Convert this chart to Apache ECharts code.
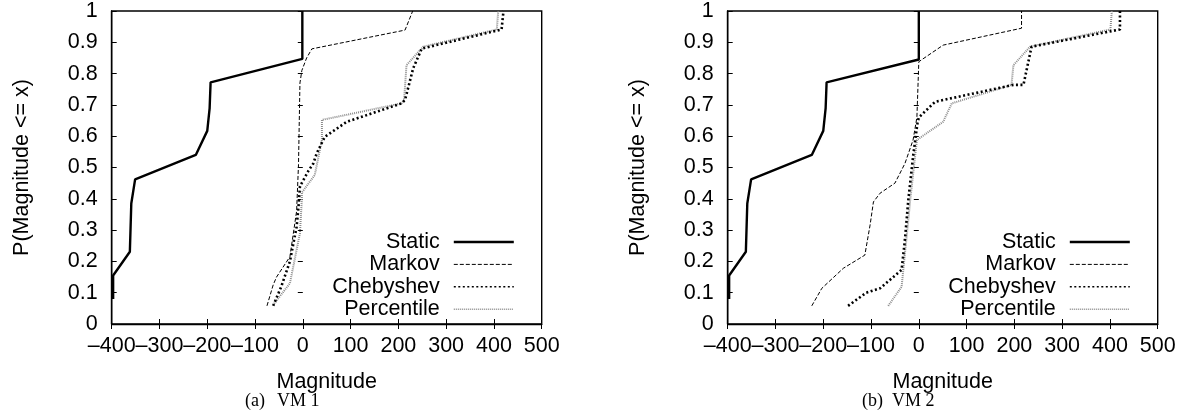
<!DOCTYPE html>
<html>
<head>
<meta charset="utf-8">
<script src="https://cdn.jsdelivr.net/npm/echarts@6/dist/echarts.min.js"></script>
<style>
  html, body { margin: 0; padding: 0; background: #fff; }
  #chart { width: 1186px; height: 418px; }
</style>
</head>
<body>
<div id="chart"></div>
<script>
// series names, in legend order
const seriesNames = ['Static', 'Markov', 'Chebyshev', 'Percentile']
const captions = ['(a)', '(b)']
const captionTitles = ['VM 1', 'VM 2']

// axis ranges / ticks
const xMin = -400
const xMax = 500
const xStep = 100
const yMin = 0
const yMax = 1
const yStep = 0.1

// VM 1 curves: [magnitude, P(Magnitude <= x)]
const staticVm1 = [[-397, 0.08], [-397, 0.155], [-362, 0.231], [-359, 0.385], [-351, 0.462], [-224, 0.54], [-200, 0.617], [-195, 0.69], [-193, 0.772], [-1, 0.847], [-1, 1]]
const markovVm1 = [[-75, 0.058], [-62, 0.125], [-55, 0.15], [-27, 0.215], [-13, 0.36], [-9, 0.51], [-6, 0.77], [-2, 0.81], [8, 0.85], [19, 0.879], [214, 0.939], [230, 1]]
const chebyshevVm1 = [[-62, 0.058], [-45, 0.12], [-27, 0.2], [-13, 0.31], [-9, 0.375], [-6, 0.44], [12, 0.49], [22, 0.513], [29, 0.545], [46, 0.598], [92, 0.646], [207, 0.705], [214, 0.716], [231, 0.817], [249, 0.88], [416, 0.941], [420, 1]]
const percentileVm1 = [[-60, 0.065], [-32, 0.12], [-27, 0.13], [-6, 0.29], [-2, 0.4], [-2, 0.42], [25, 0.476], [40, 0.588], [40, 0.652], [207, 0.705], [212, 0.716], [217, 0.827], [252, 0.886], [406, 0.941], [409, 1]]

// VM 2 curves
const staticVm2 = [[-397, 0.08], [-397, 0.155], [-362, 0.231], [-359, 0.385], [-351, 0.462], [-224, 0.54], [-200, 0.617], [-195, 0.69], [-193, 0.772], [0, 0.845], [0, 1]]
const markovVm2 = [[-224, 0.058], [-203, 0.114], [-158, 0.178], [-113, 0.22], [-102, 0.316], [-95, 0.39], [-81, 0.418], [-50, 0.45], [-29, 0.513], [-12, 0.588], [-4, 0.66], [0, 0.838], [51, 0.891], [215, 0.945], [215, 1]]
const chebyshevVm2 = [[-148, 0.058], [-110, 0.1], [-81, 0.114], [-36, 0.173], [-29, 0.27], [-22, 0.396], [-12, 0.535], [-3, 0.64], [0, 0.66], [34, 0.71], [198, 0.764], [219, 0.764], [236, 0.886], [421, 0.941], [421, 1]]
const percentileVm2 = [[-64, 0.058], [-36, 0.119], [-29, 0.226], [-22, 0.332], [-18, 0.396], [-4, 0.588], [51, 0.646], [69, 0.705], [194, 0.764], [198, 0.827], [233, 0.886], [401, 0.941], [404, 1]]

const panels = [
  [staticVm1, markovVm1, chebyshevVm1, percentileVm1],
  [staticVm2, markovVm2, chebyshevVm2, percentileVm2]
]

const FONT = 'Liberation Sans, Arial, sans-serif'
const SERIF = 'Liberation Serif, Times New Roman, serif'
const FS = 21.5

const lineStyles = [
  { color: '#000', width: 2.4, type: 'solid' },
  { color: '#000', width: 1, type: [4, 2] },
  { color: '#000', width: 2.6, type: [2, 2.5] },
  { color: '#8c8c8c', width: 2, type: [1, 1] }
]
// the key samples are drawn a bit thinner than the curves
const legendWidths = [2.4, 1, 1.6, 1.5]

const gridLefts = [111.7, 727.7]
const legendRights = [666, 50]
const captionX = [245, 862]
const titleX = [277, 892]

// gnuplot draws negative ticks with a long dash
const fmtX = v => (v < 0 ? '\u2013' + Math.abs(v) : String(v))
const fmtY = v => String(parseFloat(v.toFixed(1)))

const grids = []
const xAxes = []
const yAxes = []
const series = []
const legends = []
const graphics = []

gridLefts.forEach((left, g) => {
  grids.push({ left: left, top: 11, width: 430, height: 313, show: true, borderColor: '#000', borderWidth: 1.4 })

  const tick = { show: true, inside: true, length: 5, lineStyle: { color: '#000', width: 1 } }
  // bottom axis with labels
  xAxes.push({
    type: 'value', gridIndex: g, min: xMin, max: xMax, interval: xStep,
    axisLine: { show: true, onZero: false, lineStyle: { color: '#000', width: 1.4 } },
    axisTick: tick,
    splitLine: { show: false },
    axisLabel: {
      color: '#000', fontFamily: FONT, fontSize: FS, margin: 11, formatter: fmtX,
      showMinLabel: true, showMaxLabel: true, hideOverlap: false
    },
    name: 'Magnitude', nameLocation: 'middle', nameGap: 47,
    nameTextStyle: { color: '#000', fontFamily: FONT, fontSize: FS }
  })
  // mirrored top ticks
  xAxes.push({
    type: 'value', gridIndex: g, position: 'top', min: xMin, max: xMax, interval: xStep,
    axisLine: { show: false }, axisTick: tick, axisLabel: { show: false }, splitLine: { show: false }
  })
  yAxes.push({
    type: 'value', gridIndex: g, min: yMin, max: yMax, interval: yStep,
    axisLine: { show: true, onZero: false, lineStyle: { color: '#000', width: 1.4 } },
    axisTick: tick,
    splitLine: { show: false },
    axisLabel: {
      color: '#000', fontFamily: FONT, fontSize: FS, margin: 14, formatter: fmtY,
      showMinLabel: true, showMaxLabel: true, hideOverlap: false
    },
    name: 'P(Magnitude <= x)', nameLocation: 'middle', nameGap: 79, nameRotate: 90,
    nameTextStyle: { color: '#000', fontFamily: FONT, fontSize: FS }
  })
  // mirrored right ticks
  yAxes.push({
    type: 'value', gridIndex: g, position: 'right', min: yMin, max: yMax, interval: yStep,
    axisLine: { show: false }, axisTick: tick, axisLabel: { show: false }, splitLine: { show: false }
  })

  panels[g].forEach((data, i) => {
    series.push({
      name: seriesNames[i],
      type: 'line',
      xAxisIndex: g * 2,
      yAxisIndex: g * 2,
      data: data,
      symbol: 'none',
      silent: true,
      animation: false,
      lineStyle: lineStyles[i],
      itemStyle: { color: lineStyles[i].color },
      z: 10 - i
    })
  })

  legends.push({
    data: seriesNames.map((name, i) => ({
      name: name,
      lineStyle: { width: legendWidths[i] }
    })),
    orient: 'vertical',
    right: legendRights[g],
    top: 226,
    align: 'right',
    itemWidth: 60,
    itemHeight: 11,
    itemGap: 0.4,
    selectedMode: false,
    itemStyle: { opacity: 0 },
    lineStyle: { width: 'inherit' },
    textStyle: { color: '#000', fontFamily: FONT, fontSize: FS, lineHeight: 22, padding: [0, 9, 0, 0] }
  })

  graphics.push({
    type: 'text', left: captionX[g], top: 392,
    style: { text: captions[g], font: '18px ' + SERIF, fill: '#000' }
  })
  graphics.push({
    type: 'text', left: titleX[g], top: 392,
    style: { text: captionTitles[g], font: '18px ' + SERIF, fill: '#000' }
  })
})

const chart = echarts.init(document.getElementById('chart'), null, { renderer: 'canvas' })
chart.setOption({
  backgroundColor: '#fff',
  animation: false,
  grid: grids,
  xAxis: xAxes,
  yAxis: yAxes,
  legend: legends,
  series: series,
  graphic: graphics
})
</script>
</body>
</html>
